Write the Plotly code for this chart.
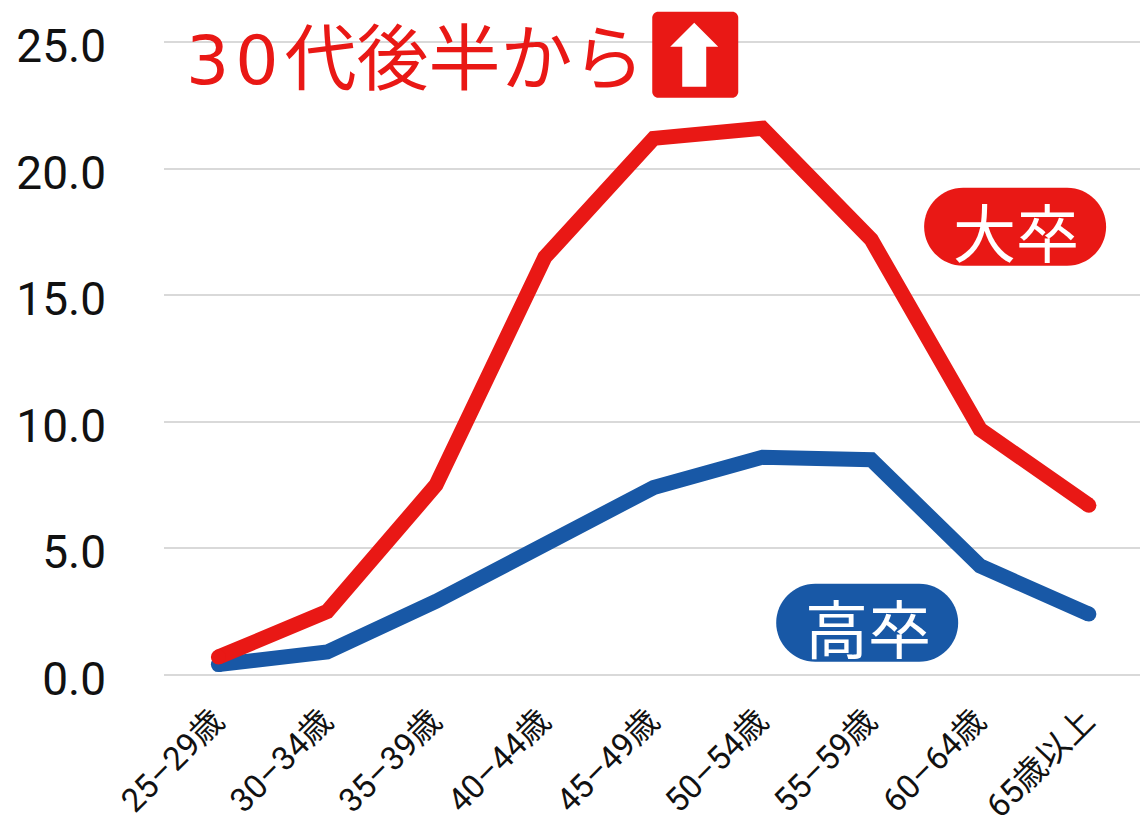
import plotly.graph_objects as go

categories = ["25–29歳", "30–34歳", "35–39歳", "40–44歳", "45–49歳", "50–54歳", "55–59歳", "60–64歳", "65歳以上"]
univ = [0.7, 2.5, 7.5, 16.5, 21.2, 21.6, 17.2, 9.7, 6.7]
high = [0.4, 0.9, 2.9, 5.2, 7.4, 8.6, 8.5, 4.3, 2.4]
y_ticks = [0, 5, 10, 15, 20, 25]
y_labels = ["0.0", "5.0", "10.0", "15.0", "20.0", "25.0"]
y_range = [-0.05, 25.05]

RED = "#e91815"
BLUE = "#1858a6"
W = 1140
H = 823
L, R, T, B = 163.5, 0, 41.2, 146.7
LW = 15
CJK = "'Noto Sans CJK JP'"


def px(x):
    return (x - L) / (W - L - R)


def py(y):
    return 1 - (y - T) / (H - T - B)


def rounded(w, h, r):
    k = r * 0.45
    return (f"M{r},0 L{w-r},0 C{w-k},0 {w},{-k} {w},{-r} "
            f"L{w},{-(h-r)} C{w},{-(h-k)} {w-k},{-h} {w-r},{-h} "
            f"L{r},{-h} C{k},{-h} 0,{-(h-k)} 0,{-(h-r)} "
            f"L0,{-r} C0,{-k} {k},0 {r},0 Z")


def pixel_shape(ax, ay, path, color):
    return dict(type="path", xref="paper", yref="paper", xsizemode="pixel", ysizemode="pixel",
                xanchor=px(ax), yanchor=py(ay), layer="above", line_width=0, fillcolor=color, path=path)


def pill(x0, y0, x1, y1, r, color):
    return pixel_shape(x0, y0, rounded(x1 - x0, y1 - y0, r), color)


def sizes(n, s):
    return [s if i in (0, n - 1) else 0 for i in range(n)]


def note(text, x, y, size, color, anchor="center"):
    return dict(text=text, xref="paper", yref="paper", x=px(x), y=py(y), showarrow=False,
                xanchor=anchor, yanchor="middle", font=dict(size=size, color=color, family=CJK))


fig = go.Figure()
for vals, color in ((high, BLUE), (univ, RED)):
    fig.add_trace(go.Scatter(x=categories, y=vals, mode="lines+markers", cliponaxis=False,
                             line=dict(color=color, width=LW),
                             marker=dict(color=color, size=sizes(len(vals), LW), line_width=0, opacity=1)))

fig.update_layout(
    width=W, height=H, autosize=False,
    margin=dict(l=L, r=R, t=T, b=B),
    paper_bgcolor="white", plot_bgcolor="white", showlegend=False,
    font=dict(family=f"Roboto, {CJK}, sans-serif", color="#111111"),
    xaxis=dict(type="category", range=[-0.5, 8.47], showgrid=False, showline=False, zeroline=False,
               automargin=False, ticks="", tickangle=-45, ticklabelstandoff=18, ticklabelshift=-4,
               tickfont=dict(size=33, family=f"Roboto, {CJK}")),
    yaxis=dict(range=y_range, tickvals=y_ticks, ticktext=y_labels, showline=False, zeroline=False,
               automargin=False, gridcolor="#d9d9d9", gridwidth=1.5, ticks="", ticklen=0,
               ticklabelstandoff=57, ticklabelshift=4,
               tickfont=dict(size=46, family="Roboto")),
    shapes=[
        pill(924, 188, 1106, 266, 39, RED),
        pill(776, 584, 958, 662, 39, BLUE),
        pill(652, 12, 738, 98, 6, RED),
        pixel_shape(694, 87, "M-12,0 L-12,40 L-24,40 L0,64 L24,40 L12,40 L12,0 Z", "white"),
    ],
    annotations=[
        note('<span style="font-family:DejaVu Sans;font-size:68px;letter-spacing:6px">30</span>代後半から',
             184, 53, 72, RED, "left"),
        note("大卒", 1016, 230, 63, "white"),
        note("高卒", 868, 626, 63, "white"),
    ],
)
fig.write_html("out.html", config={"displayModeBar": False},
               post_script="document.body.style.margin='0';document.documentElement.style.overflow='hidden';")
